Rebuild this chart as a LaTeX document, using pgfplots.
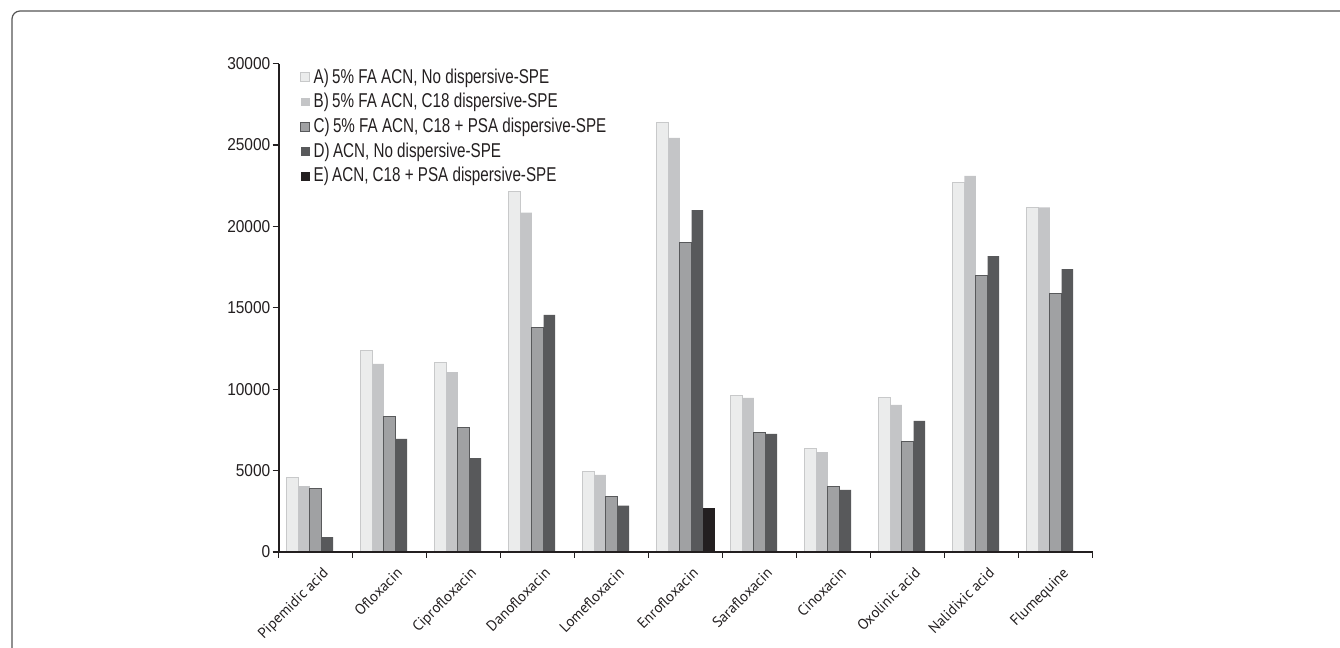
\documentclass[border=0pt]{standalone}
\usepackage{pgfplots}
\pgfplotsset{compat=1.18}
\usepackage{pgfplotstable}
\usepackage{fontspec}
\setmainfont{Liberation Sans}
\newfontfamily\legfont[FakeStretch=0.76]{Liberation Sans}
\newfontfamily\tickfont[FakeStretch=0.9]{Liberation Sans}
\newfontfamily\xfont{PT Sans}
\definecolor{axisc}{HTML}{231F20}
\definecolor{cA}{HTML}{EBECEC}
\definecolor{cAd}{HTML}{C8C9CA}
\definecolor{cB}{HTML}{C4C5C7}
\definecolor{cC}{HTML}{A0A1A3}
\definecolor{cCd}{HTML}{58595B}
\definecolor{cD}{HTML}{58595B}
\definecolor{cE}{HTML}{231F20}
\definecolor{framec}{HTML}{555555}

\pgfplotsset{sqlegend/.style={legend image code/.code={\path[##1] (0pt,-2.2pt) rectangle (4.4pt,2.2pt);}}}

\pgfplotstableread{
x A B C D
1 4550 4050 3900 920
2 12400 11550 8350 6950
3 11630 11050 7640 5770
4 22130 20840 13780 14560
5 4930 4730 3400 2850
6 26370 25430 19000 21000
7 9600 9460 7370 7250
8 6330 6140 4030 3810
9 9480 9030 6780 8050
10 22690 23100 16970 18180
11 21170 21170 15890 17380
}\datatable
% series E: zero for all other compounds
\pgfplotstableread{
x E
6 2700
10 40
11 40
}\tableE

\begin{document}
\begin{tikzpicture}
\useasboundingbox (0,0) rectangle (670pt,324pt);
\draw[framec, line width=0.6pt, rounded corners=4pt] (6pt,-10pt) -- (6pt,318.5pt) -- (700pt,318.5pt);
\begin{axis}[
  at={(139.35pt,48pt)}, anchor=south west,
  scale only axis, width=407pt, height=244.2pt,
  ybar=0pt, bar width=0.157,
  xmin=0.5, xmax=11.5, ymin=0, ymax=30000,
  axis on top,
  axis x line*=bottom, axis y line*=left,
  axis line style={-, line width=1pt, axisc},
  tick align=outside,
  major tick length=3pt, minor tick length=3pt,
  xtick={1,...,11},
  xticklabels={Pipemidic acid, Ofloxacin, Ciprofloxacin, Danofloxacin, Lomefloxacin, Enrofloxacin, Sarafloxacin, Cinoxacin, Oxolinic acid, Nalidixic acid, Flumequine},
  every major x tick/.append style={draw=none},
  minor xtick={0.5,1.5,...,11.5},
  every minor x tick/.append style={draw=axisc, line width=0.6pt},
  ytick={0,5000,...,30000},
  every major y tick/.append style={draw=axisc, line width=0.6pt},
  scaled y ticks=false,
  /pgf/number format/assume math mode=true,
  yticklabel={\pgfmathprintnumber[fixed,1000 sep={}]{\tick}},
  yticklabel style={font=\tickfont\fontsize{8.6}{9}\selectfont, text=axisc, inner sep=1pt},
  xticklabel style={xshift=3pt, yshift=-4pt, anchor=north east, rotate=45, font=\xfont\fontsize{7.4}{9}\selectfont, text=axisc, inner sep=0pt},
  legend style={at={(axis description cs:0.026,0.993)}, anchor=north west, draw=none, fill=none,
    font=\legfont\fontsize{10}{11}\selectfont, text=axisc, row sep=2.4pt, inner sep=0pt,
    nodes={inner sep=0.6pt},
    /tikz/every odd column/.append style={column sep=1.2pt}},
  legend cell align=left,
  clip=false,
]
\addplot[fill=cA, draw=cAd, line width=0.5pt, sqlegend] table[x=x,y=A] {\datatable};
\addlegendentry{A)\,5\% FA ACN, No dispersive-SPE}
\addplot[fill=cB, draw=none, sqlegend] table[x=x,y=B] {\datatable};
\addlegendentry{B)\,5\% FA ACN, C18 dispersive-SPE}
\addplot[fill=cC, draw=cCd, line width=0.5pt, sqlegend] table[x=x,y=C] {\datatable};
\addlegendentry{C)\,5\% FA ACN, C18 + PSA dispersive-SPE}
\addplot[fill=cD, draw=none, sqlegend] table[x=x,y=D] {\datatable};
\addlegendentry{D)\,ACN, No dispersive-SPE}
\addplot[fill=cE, draw=none, sqlegend] table[x=x,y=E] {\tableE};
\addlegendentry{E)\,ACN, C18 + PSA dispersive-SPE}
\end{axis}
\end{tikzpicture}
\end{document}
